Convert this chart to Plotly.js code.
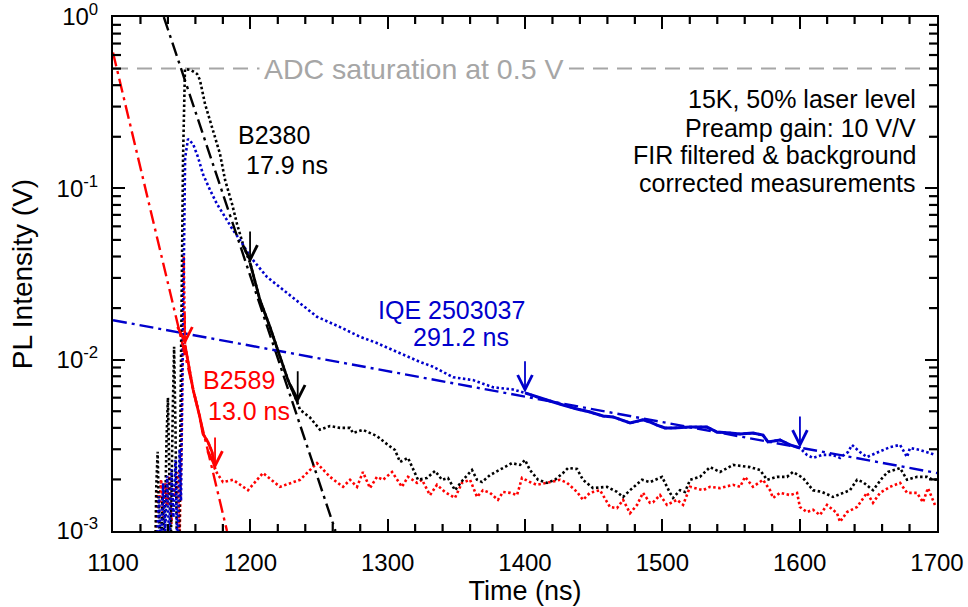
<!DOCTYPE html>
<html><head><meta charset="utf-8">
<script src="https://cdn.plot.ly/plotly-3.0.1.min.js"></script>
<style>html,body{margin:0;padding:0;background:#fff}#chart{width:968px;height:607px}</style>
</head><body><div id="chart"></div>
<script>
// ---------------- data ----------------
const b2380Time = [1130.5,1131.5,1132.5,1133.5,1134.5,1136,1137.5,1139,1140,1141,1142,1143.5,1144.5,1145.5,1146.5,1148,1149,1150,1151,1152.4,1156.8,1161.2,1163.3,1167,1172.1,1177.9,1181.6,1186.7,1190.3,1194.7,1199.8,1207,1214.3,1221.6,1227.4,1232.5,1234.5,1236.2,1243.4,1250.7,1258,1265.3,1272.6,1274.8,1282,1292.2,1300.2,1305.3,1309,1314.8,1322.1,1328.6,1334.5,1339.6,1343.9,1349,1354.9,1361.4,1365.1,1368.7,1374.5,1384,1390.5,1396.4,1400,1403.6,1409.5,1416,1421.8,1427.7,1431.3,1437.9,1442.2,1449.5,1459.7,1467,1471.4,1476.5,1485.2,1491,1499.8,1505.6,1507.8,1512.9,1516.5,1520.2,1527.4,1534.7,1542,1551.5,1558.7,1563.8,1571.1,1576.2,1583.5,1590.8,1595.1,1602.4,1609.7,1616.3,1624.3,1631.6,1636.6,1641.8,1646.1,1653.4,1660.7,1664.3,1673.1,1678.2,1685.4,1692.7,1697.1,1700];
const b2380Value = [0.0005,0.0018,0.0029,0.0012,0.0005,0.0016,0.0008,0.0035,0.0060,0.0022,0.0007,0.0050,0.0119,0.0040,0.0008,0.0006,0.0030,0.03,0.15,0.497,0.49,0.465,0.429,0.311,0.228,0.159,0.112,0.081,0.062,0.047,0.0367,0.0223,0.0155,0.0104,0.0076,0.0061,0.0056,0.0051,0.0046,0.0039,0.0041,0.0040,0.0040,0.00373,0.00389,0.00358,0.00318,0.00297,0.00253,0.00267,0.00199,0.00204,0.00224,0.00199,0.00204,0.00173,0.00199,0.00227,0.00199,0.00193,0.00212,0.00233,0.00249,0.00243,0.00260,0.00227,0.00199,0.00191,0.00199,0.00218,0.00233,0.0023,0.00199,0.00178,0.00181,0.00169,0.00158,0.00173,0.00199,0.00193,0.00207,0.00167,0.00156,0.00173,0.00169,0.00199,0.00207,0.00236,0.00221,0.00243,0.0024,0.00236,0.00227,0.00199,0.00207,0.00207,0.00221,0.00204,0.00173,0.00169,0.00158,0.00167,0.00173,0.00199,0.00193,0.00173,0.00207,0.00221,0.00233,0.00199,0.00207,0.00207,0.00199,0.0020];

const b2589Time = [1130.5,1132,1133.5,1135,1136.5,1138,1139.5,1141,1142.5,1144,1145.5,1147,1148.5,1150,1150.8,1151.5,1152.4,1153.9,1158.3,1163.3,1165.5,1169.2,1172.1,1174.3,1175.7,1180.1,1187.4,1198.3,1209.2,1221.6,1236.2,1248.5,1258,1267.5,1272.6,1277.7,1282,1287.1,1292.2,1296.6,1303.2,1310.4,1314.8,1321.4,1325,1330.8,1335.9,1341.7,1349,1354.1,1360,1365.1,1369.4,1374.5,1380.3,1384,1389.1,1394.2,1397.8,1403.6,1408.7,1416,1425.5,1430.6,1437.9,1442.2,1447.3,1454.6,1461.9,1467,1471.4,1476.5,1481.6,1485.9,1491,1493.2,1498.3,1503.4,1510.7,1515.1,1520.2,1529.6,1534.7,1542,1551.5,1556.6,1560.2,1566,1573.3,1578.4,1580.6,1585.7,1593,1598.1,1600.2,1605.3,1609.7,1614.8,1619.9,1627.2,1629.4,1634.5,1641.8,1649,1653.4,1658.5,1665.8,1673.1,1678.2,1685.4,1689.8,1693.4,1698.5];
const b2589Value = [0.0005,0.0017,0.0013,0.0020,0.0012,0.0019,0.0014,0.0021,0.0011,0.0018,0.0016,0.0022,0.0009,0.004,0.025,0.04,0.0122,0.0104,0.0067,0.0046,0.0037,0.0033,0.0029,0.0023,0.00218,0.00193,0.00199,0.00173,0.00218,0.00181,0.00199,0.00249,0.00207,0.00181,0.00199,0.00181,0.00221,0.00178,0.00207,0.00199,0.00221,0.00181,0.00207,0.00191,0.00199,0.00162,0.00186,0.00169,0.00156,0.00191,0.00199,0.00158,0.00173,0.00167,0.00152,0.00169,0.00167,0.00162,0.00204,0.00193,0.00186,0.00191,0.00199,0.00191,0.00169,0.00152,0.00167,0.00173,0.00138,0.00136,0.00152,0.00127,0.00142,0.00167,0.00146,0.00147,0.00162,0.00142,0.00152,0.00142,0.00181,0.00173,0.00181,0.00178,0.00186,0.00181,0.00207,0.00181,0.00199,0.00173,0.00156,0.00167,0.00162,0.00167,0.00138,0.00129,0.00133,0.00124,0.00142,0.00127,0.00113,0.00129,0.00138,0.00167,0.00146,0.00167,0.00181,0.00191,0.00167,0.00167,0.00147,0.00178,0.00142];

const iqeTime = [1132,1133.5,1135,1136.5,1138,1139.5,1141,1142.5,1144,1145.5,1147,1148.5,1149.5,1150.5,1151.5,1152.5,1154.6,1158.3,1161.9,1165.5,1170.6,1175.7,1181.6,1187.4,1192.5,1199.8,1212.1,1223.8,1236.2,1248.5,1265.3,1279.9,1292.2,1309,1323.5,1333,1347.6,1362.1,1376.7,1391.3,1400,1408.7,1418.2,1427.7,1437.9,1447.3,1456.8,1464.1,1470.6,1476.5,1485.9,1491,1496.1,1501.9,1507.8,1520.2,1532.5,1539.8,1549.3,1556.6,1566,1573.3,1576.9,1585.7,1593,1600.2,1605.3,1609.7,1616.3,1624.3,1629.4,1635.2,1638.1,1643.9,1649,1656.3,1665.8,1673.1,1678.2,1680.3,1687.6,1694.9,1698.5];
const iqeValue = [0.0008,0.0016,0.0007,0.0019,0.0010,0.0021,0.0008,0.0023,0.0012,0.0026,0.0007,0.0030,0.0015,0.006,0.05,0.15,0.194,0.1815,0.152,0.121,0.098,0.081,0.068,0.057,0.050,0.040,0.0304,0.0255,0.0214,0.0178,0.0155,0.0136,0.0125,0.0109,0.0097,0.0091,0.0079,0.0076,0.0069,0.0067,0.0064,0.00605,0.00574,0.00544,0.00515,0.00495,0.00469,0.00463,0.00445,0.00427,0.00445,0.00433,0.00415,0.00399,0.00399,0.00404,0.00404,0.00378,0.00373,0.00368,0.00373,0.00363,0.00331,0.0034,0.00318,0.00305,0.00278,0.00267,0.00278,0.00278,0.00267,0.00289,0.00318,0.00289,0.0027,0.00285,0.00309,0.00318,0.0027,0.00305,0.00297,0.00285,0.00278];

// exponential fits (end points)
const fitB2380Time = [1137, 1262];
const fitB2380Value = [1.0, 0.001];
const fitB2589Time = [1100, 1183];
const fitB2589Value = [0.62, 0.001];
const fitIqeTime = [1100, 1700];
const fitIqeValue = [0.0170, 0.00218];

// ADC saturation
const satTime = [1100, 1700];
const satValue = [0.5, 0.5];

// fit window markers (arrows)
const b2380Window = [1199.8, 1234.5];
const b2380WindowValue = [0.0367, 0.0056];
const b2589Window = [1152.4, 1174.3];
const b2589WindowValue = [0.0122, 0.0023];
const iqeWindow = [1400, 1600.2];
const iqeWindowValue = [0.0064, 0.00305];

// axis ticks
const xTicks = [1100,1200,1300,1400,1500,1600,1700];
const yTickVals = [0.001, 0.01, 0.1, 1];
const yTickText = ['10<sup>-3</sup>','10<sup>-2</sup>','10<sup>-1</sup>','10<sup>0</sup>'];

// ---------------- drawing ----------------
const BLACK = '#000000', RED = '#ff0000', BLUE = '#0000cc', GRAY = '#a6a6a6';
const FONT = 'Arial, "Liberation Sans", sans-serif';
const W = 968, H = 607, M = {l: 113, r: 31, t: 17, b: 76};
const X0 = 1100, X1 = 1700, Y0 = -3, Y1 = 0;
const pxPerNs = (W - M.l - M.r) / (X1 - X0);
const pxPerDecade = (H - M.t - M.b) / (Y1 - Y0);

function segment(t, v, a, b) {
  const x = [], y = [];
  for (let i = 0; i < t.length; i++) if (t[i] >= a && t[i] <= b) { x.push(t[i]); y.push(v[i]); }
  return {x, y};
}
const dotted = '2.5px,2.5px';
const dashdot = '14px,5px,3px,5px';

const traces = [
  {x: satTime, y: satValue, mode: 'lines', line: {color: GRAY, width: 2, dash: '15px,9px'}},
  {x: b2589Time, y: b2589Value, mode: 'lines', line: {color: RED, width: 2.6, dash: dotted}},
  {x: b2380Time, y: b2380Value, mode: 'lines', line: {color: BLACK, width: 2.6, dash: dotted}},
  {x: iqeTime, y: iqeValue, mode: 'lines', line: {color: BLUE, width: 2.6, dash: dotted}},
  {x: fitB2589Time, y: fitB2589Value, mode: 'lines', line: {color: RED, width: 2.4, dash: dashdot}},
  {x: fitB2380Time, y: fitB2380Value, mode: 'lines', line: {color: BLACK, width: 2.4, dash: dashdot}},
  {x: fitIqeTime, y: fitIqeValue, mode: 'lines', line: {color: BLUE, width: 2.4, dash: dashdot}},
];
const s1 = segment(b2380Time, b2380Value, b2380Window[0], b2380Window[1]);
const s2 = segment(b2589Time, b2589Value, b2589Window[0], b2589Window[1]);
const s3 = segment(iqeTime, iqeValue, iqeWindow[0], iqeWindow[1]);
traces.push({x: s1.x, y: s1.y, mode: 'lines', line: {color: BLACK, width: 2.8}});
traces.push({x: s2.x, y: s2.y, mode: 'lines', line: {color: RED, width: 2.8}});
traces.push({x: s3.x, y: s3.y, mode: 'lines', line: {color: BLUE, width: 3}});
traces.forEach(t => { t.hoverinfo = 'skip'; t.showlegend = false; });

// minor inside tick marks on all four sides (axis decoration, positioned from the axis scale)
function addTick(xs, ys) {
  traces.push({x: xs, y: ys, mode: 'lines', line: {color: BLACK, width: 2.2, simplify: false},
    hoverinfo: 'skip', showlegend: false});
}
function xTick(t, len) {
  const dy = len / pxPerDecade;
  addTick([t, t], [Math.pow(10, Y0), Math.pow(10, Y0 + dy)]);
  addTick([t, t], [Math.pow(10, Y1), Math.pow(10, Y1 - dy)]);
}
function yTick(v, len) {
  const dx = len / pxPerNs;
  addTick([X0, X0 + dx], [v, v]);
  addTick([X1, X1 - dx], [v, v]);
}
for (let t = X0 + 20; t < X1; t += 20) if (Math.round(t - X0) % 100 !== 0) xTick(t, 7);
[0.001, 0.01, 0.1].forEach(d => { for (let k = 2; k <= 9; k++) yTick(d * k, 8); });

const annotations = [];
function arrows(ts, vs, color) {
  ts.forEach((t, i) => annotations.push({
    x: t, y: Math.log10(vs[i]), xref: 'x', yref: 'y', text: '', showarrow: true,
    ax: 0, ay: -33, arrowhead: 5, arrowsize: 1.6, arrowwidth: 1.8, arrowcolor: color, standoff: 0
  }));
}
arrows(b2380Window, b2380WindowValue, BLACK);
arrows(b2589Window, b2589WindowValue, RED);
arrows(iqeWindow, iqeWindowValue, BLUE);

function label(text, x, y, color, xanchor) {
  annotations.push({text, x, y, xref: 'paper', yref: 'paper', xanchor, yanchor: 'middle',
    showarrow: false, font: {family: FONT, size: 25, color}, borderpad: 0});
}
label('B2380', 0.1505, 0.7695, BLACK, 'left');
label('17.9 ns', 0.1602, 0.7111, BLACK, 'left');
label('IQE 2503037', 0.3204, 0.4309, BLUE, 'left');
label('291.2 ns', 0.3629, 0.3765, BLUE, 'left');
label('B2589', 0.1080, 0.2947, RED, 'left');
label('13.0 ns', 0.1141, 0.2344, RED, 'left');
label('15K, 50% laser level', 0.9757, 0.8395, BLACK, 'right');
label('Preamp gain: 10 V/V', 0.9757, 0.7850, BLACK, 'right');
label('FIR filtered &amp; background', 0.9757, 0.7315, BLACK, 'right');
label('corrected measurements', 0.9757, 0.6780, BLACK, 'right');
annotations.push({text: 'ADC saturation at 0.5 V', x: 0.3650, xref: 'paper', y: Math.log10(0.5), yref: 'y',
  xanchor: 'center', yanchor: 'middle', showarrow: false, bgcolor: '#ffffff', borderpad: 4,
  font: {family: FONT, size: 28.5, color: GRAY}});

const axisCommon = {
  showline: true, linecolor: BLACK, linewidth: 2, mirror: 'allticks', ticks: 'inside',
  ticklen: 12, tickwidth: 2.2, tickcolor: BLACK,
  showgrid: false, zeroline: false,
  tickfont: {family: FONT, size: 24, color: BLACK}
};
const layout = {
  width: W, height: H,
  margin: M,
  paper_bgcolor: '#ffffff', plot_bgcolor: '#ffffff',
  showlegend: false,
  xaxis: Object.assign({}, axisCommon, {
    range: [X0, X1], tickmode: 'array', tickvals: xTicks, ticklabelstandoff: 9,
    title: {text: 'Time (ns)', font: {family: FONT, size: 27, color: BLACK}, standoff: 5}
  }),
  yaxis: Object.assign({}, axisCommon, {
    type: 'log', range: [Y0, Y1], tickmode: 'array', tickvals: yTickVals, ticktext: yTickText, ticklabelstandoff: 8,
    title: {text: 'PL Intensity (V)', font: {family: FONT, size: 28, color: BLACK}, standoff: 16}
  }),
  annotations
};
Plotly.newPlot('chart', traces, layout, {displayModeBar: false, staticPlot: true});
</script>
</body></html>
